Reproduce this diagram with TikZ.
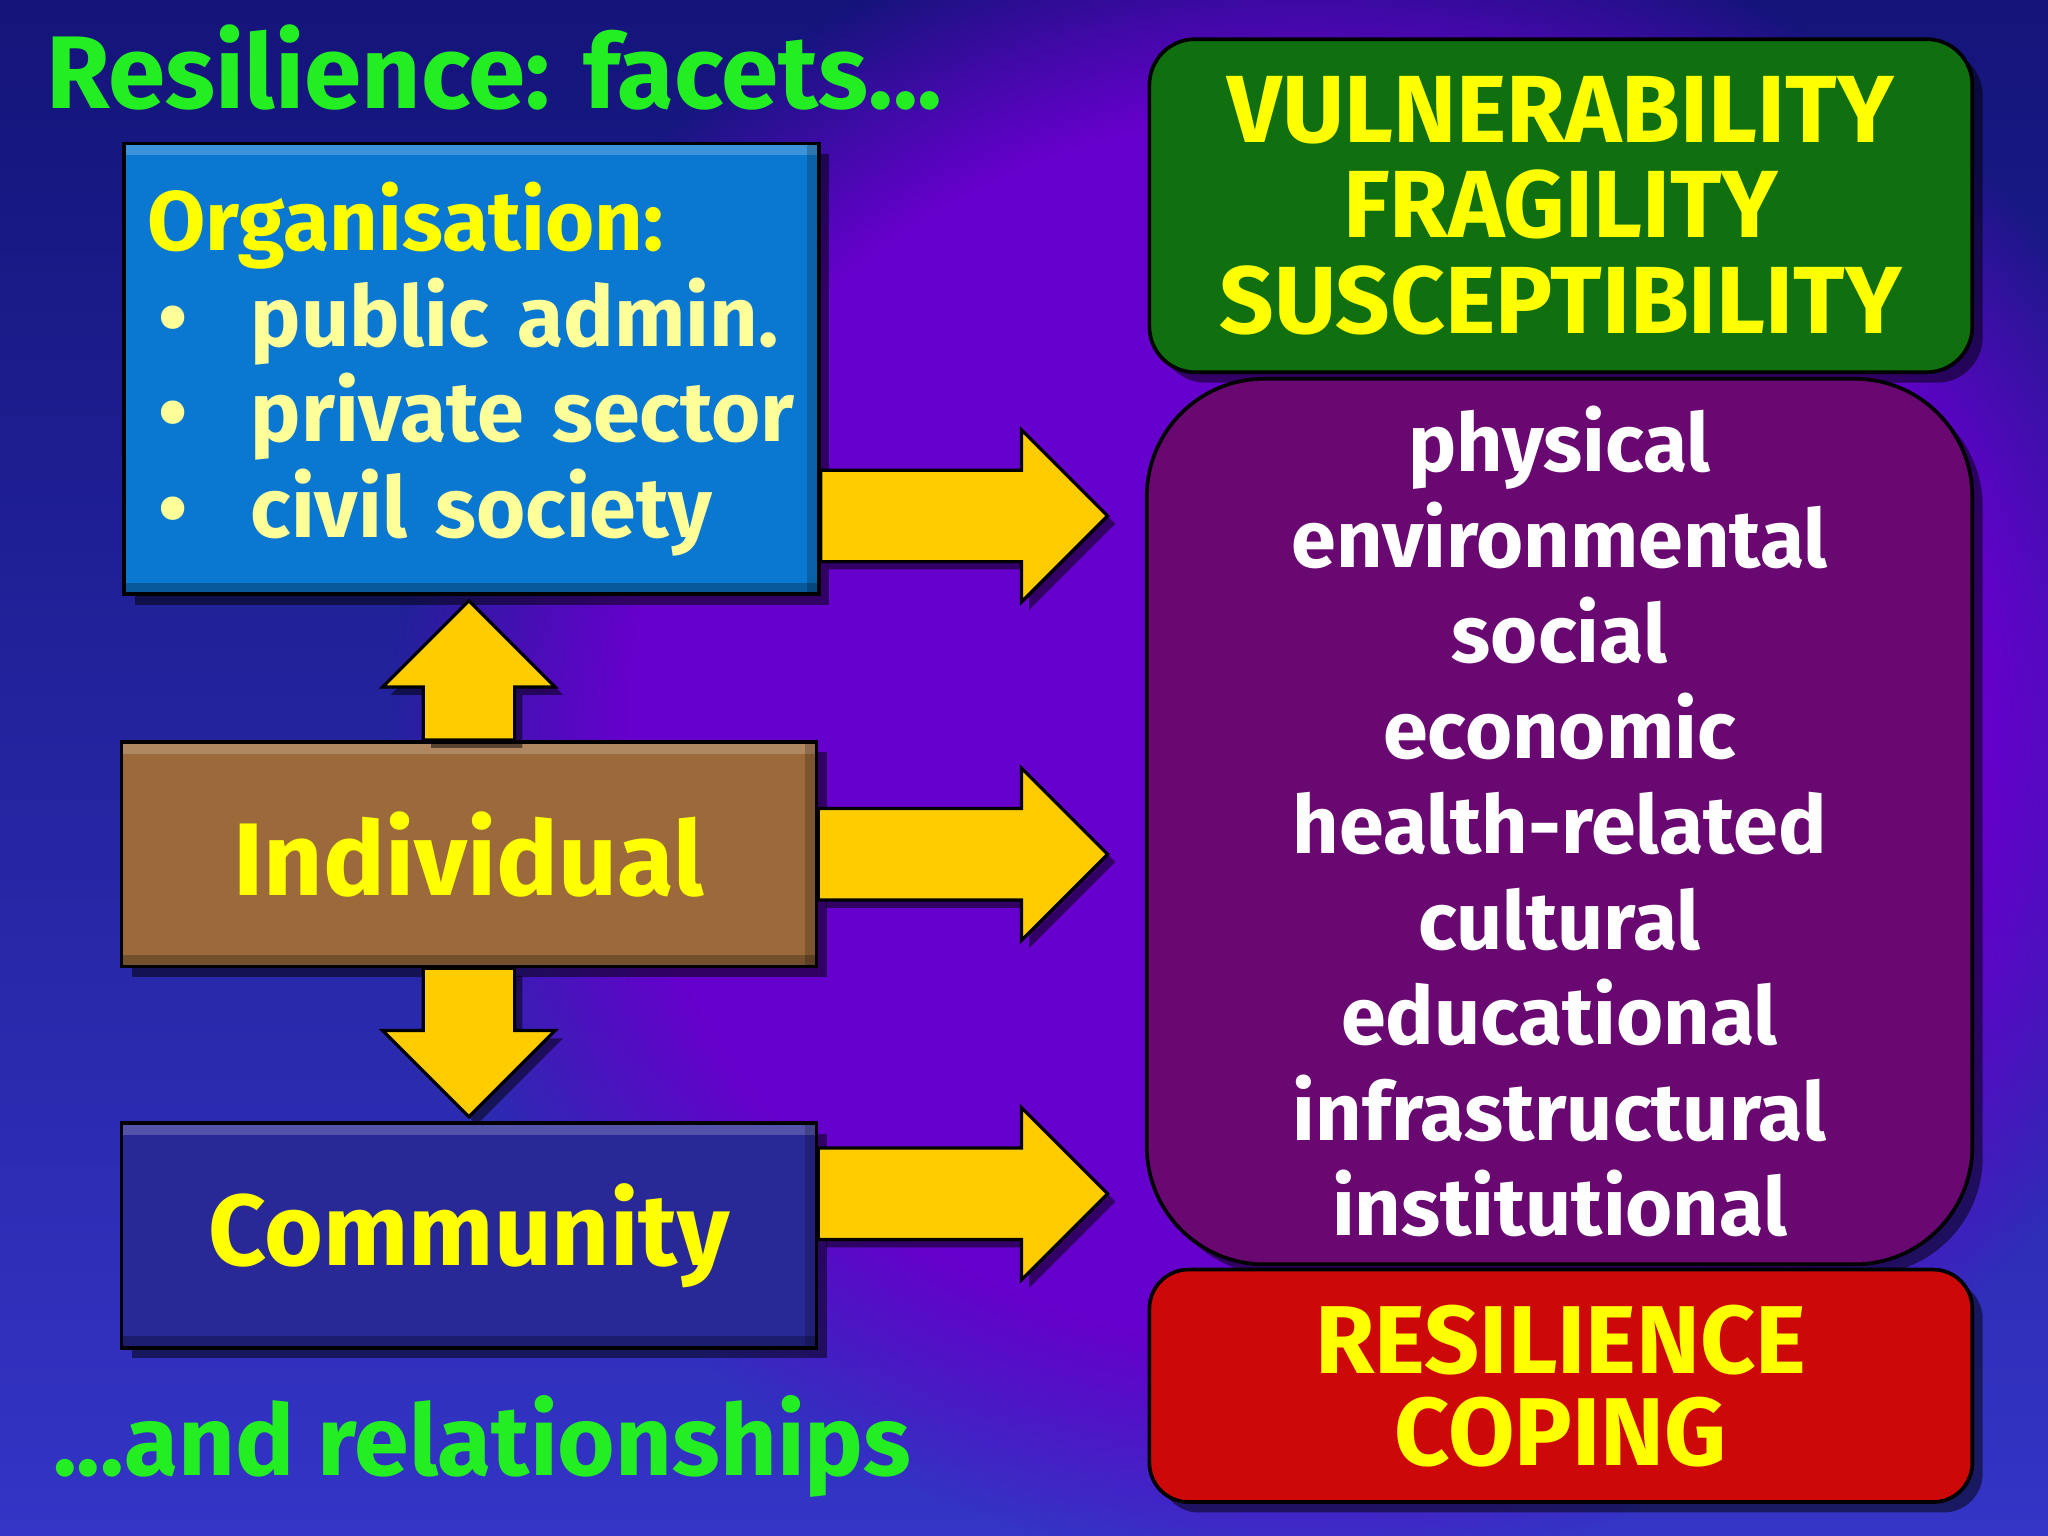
\documentclass[tikz,border=0pt]{standalone}
\usepackage{fontspec}
\setmainfont{Fira Sans}
\usepackage{tikz}
\usetikzlibrary{positioning,calc,shadows,fadings}

\definecolor{bgnavy}{HTML}{14147A}
\definecolor{bgblue}{HTML}{3434C6}
\definecolor{bgviolet}{HTML}{6600CC}
\definecolor{orgblue}{HTML}{0A78D0}
\definecolor{indivbrown}{HTML}{9C6A3A}
\definecolor{commblue}{HTML}{282896}
\definecolor{vulngreen}{HTML}{107010}
\definecolor{facetpurple}{HTML}{680870}
\definecolor{copingred}{HTML}{CC0808}
\definecolor{arrowyellow}{HTML}{FFCC00}
\definecolor{txtyellow}{HTML}{FFFF00}
\definecolor{paleyellow}{HTML}{FFFF99}
\definecolor{titlegreen}{HTML}{22EE22}

\pgfdeclareradialshading{glowshading}{\pgfpointorigin}{color(0bp)=(pgftransparent!0); color(18.5bp)=(pgftransparent!0); color(25bp)=(pgftransparent!100); color(50bp)=(pgftransparent!100)}
\pgfdeclarefading{glow}{\pgfuseshading{glowshading}}

% fat block arrow from #1 to tip #2
\newcommand{\fatarrow}[2]{%
  \draw[fat arrow] ($(#1)!.35cm!90:(#2)$)
    -- ($($(#2)!.66cm!(#1)$)!.35cm!90:(#2)$)
    -- ($($(#2)!.66cm!(#1)$)!.66cm!90:(#2)$)
    -- (#2)
    -- ($($(#2)!.66cm!(#1)$)!.66cm!-90:(#2)$)
    -- ($($(#2)!.66cm!(#1)$)!.35cm!-90:(#2)$)
    -- ($(#1)!.35cm!-90:(#2)$) -- cycle;}

\begin{document}
\begin{tikzpicture}[
        heading/.style={anchor=base west, inner sep=0pt, text=titlegreen},
        sqbox/.style={draw=black, line width=0.8pt, minimum width=5.32cm, minimum height=1.72cm, text=txtyellow,
            drop shadow={shadow xshift=0.08cm, shadow yshift=-0.08cm, opacity=0.5, fill=black},
            path picture={
                \fill[white, opacity=0.2] (path picture bounding box.north west) rectangle ([yshift=-0.09cm]path picture bounding box.north east);
                \fill[black, opacity=0.25] (path picture bounding box.south west) rectangle ([yshift=0.09cm]path picture bounding box.south east);
                \fill[black, opacity=0.2] (path picture bounding box.north east) rectangle ([xshift=-0.09cm]path picture bounding box.south east);}},
        rbox/.style={draw=black, line width=0.8pt, minimum width=6.30cm, align=center,
            drop shadow={shadow xshift=0.08cm, shadow yshift=-0.08cm, opacity=0.5, fill=black}},
        fat arrow/.style={fill=arrowyellow, draw=black, line width=0.7pt, line join=miter,
            drop shadow={shadow xshift=0.06cm, shadow yshift=-0.06cm, opacity=0.5, fill=black}}
    ]

    % Background
    \useasboundingbox (0,0) rectangle (15.68,-11.76);
    \shade[top color=bgnavy, bottom color=bgblue] (0,0) rectangle (15.68,-11.76);
    \fill[bgviolet, path fading=glow] (10.0,-5.6) ellipse (7.0 and 6.4);

    % Nodes
    \node at (0.35,-0.83) (title) [heading, font=\fontsize{22.5}{26}\selectfont\bfseries] {Resilience: facets...};
    \node at (3.61,-2.825) (org) [sqbox, fill=orgblue, minimum height=3.45cm, text width=4.96cm, inner xsep=0.18cm,
        align=left, text=paleyellow, font=\fontsize{18.4}{20.8}\selectfont\bfseries]
        {\textcolor{txtyellow}{Organisation:}\\
         \makebox[0.79cm][l]{\hspace{0.08cm}\textbullet}public admin.\\
         \makebox[0.79cm][l]{\hspace{0.08cm}\textbullet}private sector\\
         \makebox[0.79cm][l]{\hspace{0.08cm}\textbullet}civil society};
    \node at (3.59,-6.54) (indiv) [sqbox, fill=indivbrown, font=\fontsize{22.5}{27}\selectfont\bfseries] {Individual};
    \node at (3.59,-9.46) (comm) [sqbox, fill=commblue, font=\fontsize{22}{27}\selectfont\bfseries] {Community};
    \node at (11.95,-1.575) (vuln) [rbox, fill=vulngreen, minimum height=2.55cm, rounded corners=0.35cm,
        text=txtyellow, font=\fontsize{20.8}{20.8}\selectfont\bfseries] {VULNERABILITY\\FRAGILITY\\SUSCEPTIBILITY};
    \node at (11.94,-6.29) (facets) [rbox, fill=facetpurple, minimum width=6.32cm, minimum height=6.78cm,
        rounded corners=0.9cm, text=white, font=\fontsize{17.6}{20.8}\selectfont\bfseries]
        {physical\\environmental\\social\\economic\\health-related\\cultural\\educational\\infrastructural\\institutional};
    \node at (11.95,-10.61) (coping) [rbox, fill=copingred, minimum height=1.78cm, rounded corners=0.3cm,
        text=txtyellow, font=\fontsize{21}{20}\selectfont\bfseries] {RESILIENCE\\COPING};
    \node at (0.40,-11.30) (relations) [heading, font=\fontsize{21.5}{26}\selectfont\bfseries] {...and relationships};

    % Arrows
    \coordinate (tip1) at (8.48,-3.95);
    \coordinate (tip2) at (8.48,-6.54);
    \coordinate (tip3) at (8.48,-9.14);
    \coordinate (uptip) at (3.59,-4.60);
    \coordinate (downtip) at (3.59,-8.55);
    \coordinate (out1) at (org.east |- tip1);
    \coordinate (out3) at (comm.east |- tip3);
    \fatarrow{out1}{tip1}
    \fatarrow{indiv.east}{tip2}
    \fatarrow{out3}{tip3}
    \fatarrow{indiv.north}{uptip}
    \fatarrow{indiv.south}{downtip}

\end{tikzpicture}
\end{document}
